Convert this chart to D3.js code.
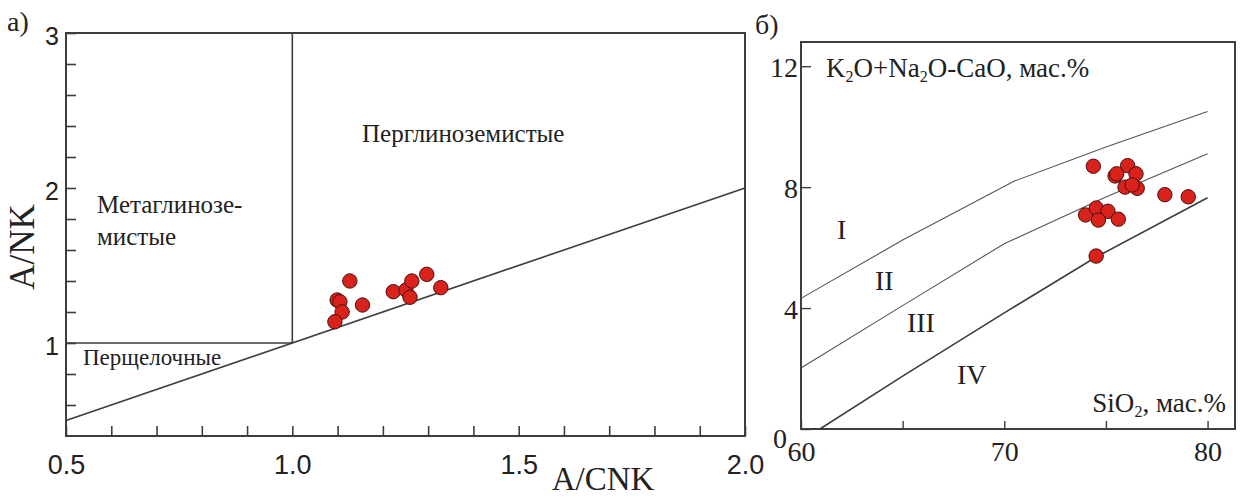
<!DOCTYPE html>
<html><head><meta charset="utf-8">
<script src="https://cdn.jsdelivr.net/npm/d3@7"></script>
<style>body{margin:0;background:#fff}svg{display:block}</style>
</head><body>
<svg id="c" width="1241" height="499"></svg>
<script>
// ---- Panel a) A/CNK vs A/NK ----
const acnk = [1.127, 1.099, 1.105, 1.110, 1.094, 1.155, 1.223, 1.251, 1.264, 1.260, 1.297, 1.328];
const anK  = [1.40, 1.277, 1.266, 1.20, 1.137, 1.245, 1.331, 1.342, 1.40, 1.295, 1.443, 1.357];
const aXTicks = [0.5,0.6,0.7,0.8,0.9,1.0,1.1,1.2,1.3,1.4,1.5,1.6,1.7,1.8,1.9,2.0];
const aXLabels = ["0.5","1.0","1.5","2.0"];
const aYTicks = [0.6,0.8,1,1.2,1.4,1.6,1.8,2,2.2,2.4,2.6,2.8,3];
const aYLabels = ["1","2","3"];
const aDiag = [[0.5,0.5],[2.0,2.0]];
const aVert = [[1.0,1.0],[1.0,3.0]];
const aHoriz = [[0.5,1.0],[1.0,1.0]];

// ---- Panel б) SiO2 vs K2O+Na2O-CaO ----
const sio2 = [74.38, 76.07, 75.45, 75.53, 76.48, 75.94, 76.54, 76.29, 77.9, 79.05, 74.0, 74.53, 75.1, 74.63, 75.61, 74.52];
const alk  = [8.69, 8.71, 8.37, 8.44, 8.44, 8.0, 7.96, 8.07, 7.75, 7.68, 7.08, 7.31, 7.2, 6.91, 6.94, 5.72];
const bXTicks = [60,65,70,75,80];
const bXLabels = ["60","70","80"];
const bYTicks = [0,4,8,12];
const curveI_II   = [[60,4.32],[65,6.25],[70.5,8.2],[75,9.33],[80,10.5]];
const curveII_III = [[60,2.02],[65,4.08],[70,6.13],[75,7.67],[80,9.1]];
const curveIII_IV = [[60.93,0],[65,1.75],[70,3.84],[74.5,5.68],[80,7.65]];
const fields = [["I",62,6.3],["II",64.1,4.6],["III",65.9,3.2],["IV",68.4,1.5]];

const svg = d3.select("#c");
const ink = "#3d3d3d";
const ptFill = "#d9221b", ptStroke = "#4a1010";
const serif = "'Liberation Serif','Times New Roman',serif";
const sans = "'Liberation Sans', Arial, sans-serif";

// ===== Panel a =====
const xa = d3.scaleLinear().domain([0.5,2.0]).range([66,745]);
const ya = d3.scaleLinear().domain([0.4,3]).range([436,33]);
const ga = svg.append("g");

const axA = ga.append("g").attr("transform","translate(0,436)")
  .call(d3.axisBottom(xa).tickValues(aXTicks).tickSize(-10).tickPadding(19)
    .tickFormat(d => { const s = d3.format(".1f")(d); return aXLabels.includes(s) ? s : ""; }));
const ayA = ga.append("g").attr("transform","translate(66,0)")
  .call(d3.axisLeft(ya).tickValues(aYTicks).tickSize(-10).tickPadding(7)
    .tickFormat(d => { const s = String(d); return aYLabels.includes(s) ? s : ""; }));
[axA, ayA].forEach(g => {
  g.select(".domain").remove();
  g.selectAll(".tick line").attr("stroke", ink).attr("stroke-width",1.6);
  g.selectAll(".tick text").attr("fill","#222").style("font-family",sans).style("font-size","27px");
});
ayA.selectAll(".tick text").style("font-size","25px").attr("dy","0.45em");

ga.append("rect").attr("x",xa(0.5)).attr("y",ya(3)).attr("width",xa(2.0)-xa(0.5)).attr("height",ya(0.4)-ya(3))
  .attr("fill","none").attr("stroke",ink).attr("stroke-width",2);
const lineA = d3.line().x(d=>xa(d[0])).y(d=>ya(d[1]));
[aDiag, aVert, aHoriz].forEach(p => ga.append("path").attr("d",lineA(p)).attr("fill","none").attr("stroke",ink).attr("stroke-width",1.6));

const labA = [["Метаглинозе-",97,213,25],["мистые",97,245,25],["Перглиноземистые",362,142,25],["Перщелочные",83,365,23]];
labA.forEach(l => ga.append("text").attr("x",l[1]).attr("y",l[2]).text(l[0])
  .style("font-family",serif).style("font-size",l[3]+"px").attr("fill","#222"));

ga.selectAll("circle.pa").data(acnk).join("circle").attr("class","pa")
  .attr("cx",(d)=>xa(d)).attr("cy",(d,i)=>ya(anK[i])).attr("r",7.2)
  .attr("fill",ptFill).attr("stroke",ptStroke).attr("stroke-width",1);

ga.append("text").attr("x",603).attr("y",490).attr("text-anchor","middle").text("A/CNK")
  .style("font-family",serif).style("font-size","33px").attr("fill","#222");
ga.append("text").attr("transform","translate(34,247) rotate(-90)").attr("text-anchor","middle").text("A/NK")
  .style("font-family",serif).style("font-size","35px").attr("fill","#222");
ga.append("text").attr("x",7).attr("y",31).text("а)").style("font-family",serif).style("font-size","28px").attr("fill","#222");

// ===== Panel b =====
const xb = d3.scaleLinear().domain([60,81.35]).range([801,1235]);
const yb = d3.scaleLinear().domain([0,12.8]).range([429,42]);
const gb = svg.append("g");

const axB = gb.append("g").attr("transform","translate(0,429)")
  .call(d3.axisBottom(xb).tickValues(bXTicks).tickSize(-8).tickPadding(12)
    .tickFormat(d => bXLabels.includes(String(d)) ? String(d) : ""));
const ayB = gb.append("g").attr("transform","translate(801,0)")
  .call(d3.axisLeft(yb).tickValues(bYTicks).tickSize(-10).tickPadding(3)
    .tickFormat(d => String(d)));
[axB, ayB].forEach(g => {
  g.select(".domain").remove();
  g.selectAll(".tick line").attr("stroke", ink).attr("stroke-width",1.4);
  g.selectAll(".tick text").attr("fill","#222").style("font-family",serif).style("font-size","28px");
});
ayB.selectAll(".tick text").attr("dy","0.38em");
ayB.selectAll(".tick").filter(d => d === 0).select("text").attr("dy","0.65em").attr("x",-14);

gb.append("rect").attr("x",xb(60)).attr("y",yb(12.8)).attr("width",xb(81.35)-xb(60)).attr("height",yb(0)-yb(12.8))
  .attr("fill","none").attr("stroke",ink).attr("stroke-width",2);

const lineB = d3.line().x(d=>xb(d[0])).y(d=>yb(d[1]));
gb.append("path").attr("d",lineB(curveI_II)).attr("fill","none").attr("stroke","#555").attr("stroke-width",1.1);
gb.append("path").attr("d",lineB(curveII_III)).attr("fill","none").attr("stroke","#555").attr("stroke-width",1.1);
gb.append("path").attr("d",lineB(curveIII_IV)).attr("fill","none").attr("stroke",ink).attr("stroke-width",1.6);

fields.forEach(f => gb.append("text").attr("x",xb(f[1])).attr("y",yb(f[2])).attr("text-anchor","middle").text(f[0])
  .style("font-family",serif).style("font-size","28px").attr("fill","#222"));

const t1 = gb.append("text").attr("x",826).attr("y",77).style("font-family",serif).style("font-size","27px").attr("fill","#222");
t1.append("tspan").text("K");
t1.append("tspan").attr("dy","5").style("font-size","16px").text("2");
t1.append("tspan").attr("dy","-5").text("O+Na");
t1.append("tspan").attr("dy","5").style("font-size","16px").text("2");
t1.append("tspan").attr("dy","-5").text("O-CaO, мас.%");

const t2 = gb.append("text").attr("x",1226).attr("y",412).attr("text-anchor","end").style("font-family",serif).style("font-size","27px").attr("fill","#222");
t2.append("tspan").text("SiO");
t2.append("tspan").attr("dy","5").style("font-size","16px").text("2");
t2.append("tspan").attr("dy","-5").text(", мас.%");

gb.selectAll("circle.pb").data(sio2).join("circle").attr("class","pb")
  .attr("cx",d=>xb(d)).attr("cy",(d,i)=>yb(alk[i])).attr("r",7.2)
  .attr("fill",ptFill).attr("stroke",ptStroke).attr("stroke-width",1);

gb.append("text").attr("x",755).attr("y",34).text("б)").style("font-family",serif).style("font-size","28px").attr("fill","#222");
</script>
</body></html>
